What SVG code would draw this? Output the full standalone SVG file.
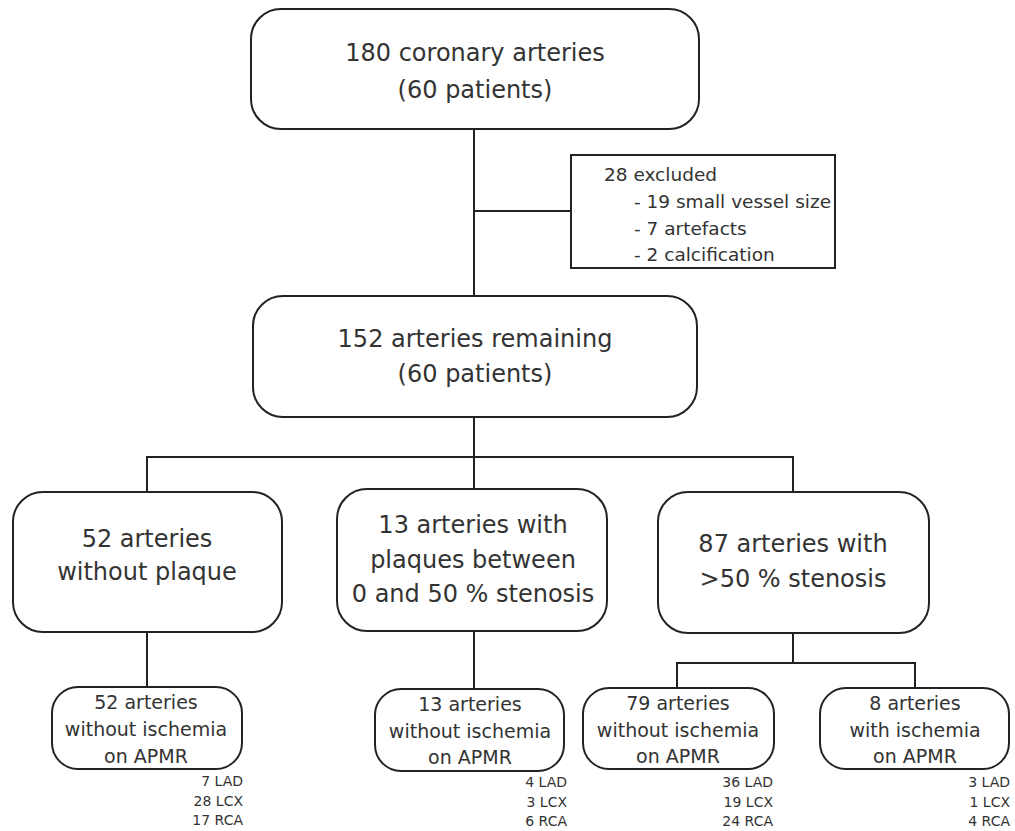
<svg xmlns="http://www.w3.org/2000/svg" width="1015" height="831" viewBox="0 0 1015 831">
<style>
.box{fill:#fff;stroke:#222;stroke-width:2}
.ln{fill:none;stroke:#222;stroke-width:2}
text{font-family:"DejaVu Sans",sans-serif;fill:#333}
.big{font-size:24px;text-anchor:middle}
.mid{font-size:19px;text-anchor:middle}
.exc{font-size:18.5px}
.lab{font-size:14px;text-anchor:end}
</style>
<rect width="1015" height="831" fill="#fff"/>
<g id="connectors">
<path class="ln" d="M474 129V296"/>
<path class="ln" d="M474 211H571"/>
<path class="ln" d="M474 417V457"/>
<path class="ln" d="M147 492V457H793V492"/>
<path class="ln" d="M474 457V489"/>
<path class="ln" d="M147 632V687"/>
<path class="ln" d="M474 631V689"/>
<path class="ln" d="M793 633V663"/>
<path class="ln" d="M677 688V663H915V688"/>
</g>
<g id="n1">
<rect class="box" x="251" y="9" width="448" height="120" rx="30"/>
<text class="big" x="475" y="61">180 coronary arteries</text>
<text class="big" x="475" y="98">(60 patients)</text>
</g>
<g id="excluded">
<rect class="box" x="571" y="155" width="264" height="113" rx="0"/>
<text class="exc" x="604" y="181">28 excluded</text>
<text class="exc" x="634" y="208">- 19 small vessel size</text>
<text class="exc" x="634" y="235">- 7 artefacts</text>
<text class="exc" x="634" y="261">- 2 calcification</text>
</g>
<g id="n2">
<rect class="box" x="253" y="296" width="444" height="121" rx="30"/>
<text class="big" x="475" y="347">152 arteries remaining</text>
<text class="big" x="475" y="382">(60 patients)</text>
</g>
<g id="n3">
<rect class="box" x="13" y="492" width="269" height="140" rx="30"/>
<text class="big" x="147" y="547">52 arteries</text>
<text class="big" x="147" y="580">without plaque</text>
</g>
<g id="n4">
<rect class="box" x="337" y="489" width="270" height="142" rx="30"/>
<text class="big" x="473" y="533">13 arteries with</text>
<text class="big" x="473" y="568">plaques between</text>
<text class="big" x="473" y="602">0 and 50 % stenosis</text>
</g>
<g id="n5">
<rect class="box" x="658" y="492" width="271" height="141" rx="30"/>
<text class="big" x="793" y="552">87 arteries with</text>
<text class="big" x="793" y="587">&gt;50 % stenosis</text>
</g>
<g id="n6">
<rect class="box" x="52" y="687" width="190" height="82" rx="26"/>
<text class="mid" x="146" y="709">52 arteries</text>
<text class="mid" x="146" y="736">without ischemia</text>
<text class="mid" x="146" y="763">on APMR</text>
<text class="lab" x="243" y="786">7 LAD</text>
<text class="lab" x="243" y="806">28 LCX</text>
<text class="lab" x="243" y="825">17 RCA</text>
</g>
<g id="n7">
<rect class="box" x="375" y="689" width="189" height="82" rx="26"/>
<text class="mid" x="470" y="711">13 arteries</text>
<text class="mid" x="470" y="738">without ischemia</text>
<text class="mid" x="470" y="764">on APMR</text>
<text class="lab" x="567" y="787">4 LAD</text>
<text class="lab" x="567" y="807">3 LCX</text>
<text class="lab" x="567" y="826">6 RCA</text>
</g>
<g id="n8">
<rect class="box" x="583" y="688" width="191" height="81" rx="26"/>
<text class="mid" x="678" y="710">79 arteries</text>
<text class="mid" x="678" y="737">without ischemia</text>
<text class="mid" x="678" y="763">on APMR</text>
<text class="lab" x="773" y="787">36 LAD</text>
<text class="lab" x="773" y="807">19 LCX</text>
<text class="lab" x="773" y="826">24 RCA</text>
</g>
<g id="n9">
<rect class="box" x="820" y="688" width="189" height="81" rx="26"/>
<text class="mid" x="915" y="710">8 arteries</text>
<text class="mid" x="915" y="737">with ischemia</text>
<text class="mid" x="915" y="763">on APMR</text>
<text class="lab" x="1010" y="787">3 LAD</text>
<text class="lab" x="1010" y="807">1 LCX</text>
<text class="lab" x="1010" y="826">4 RCA</text>
</g>
</svg>
